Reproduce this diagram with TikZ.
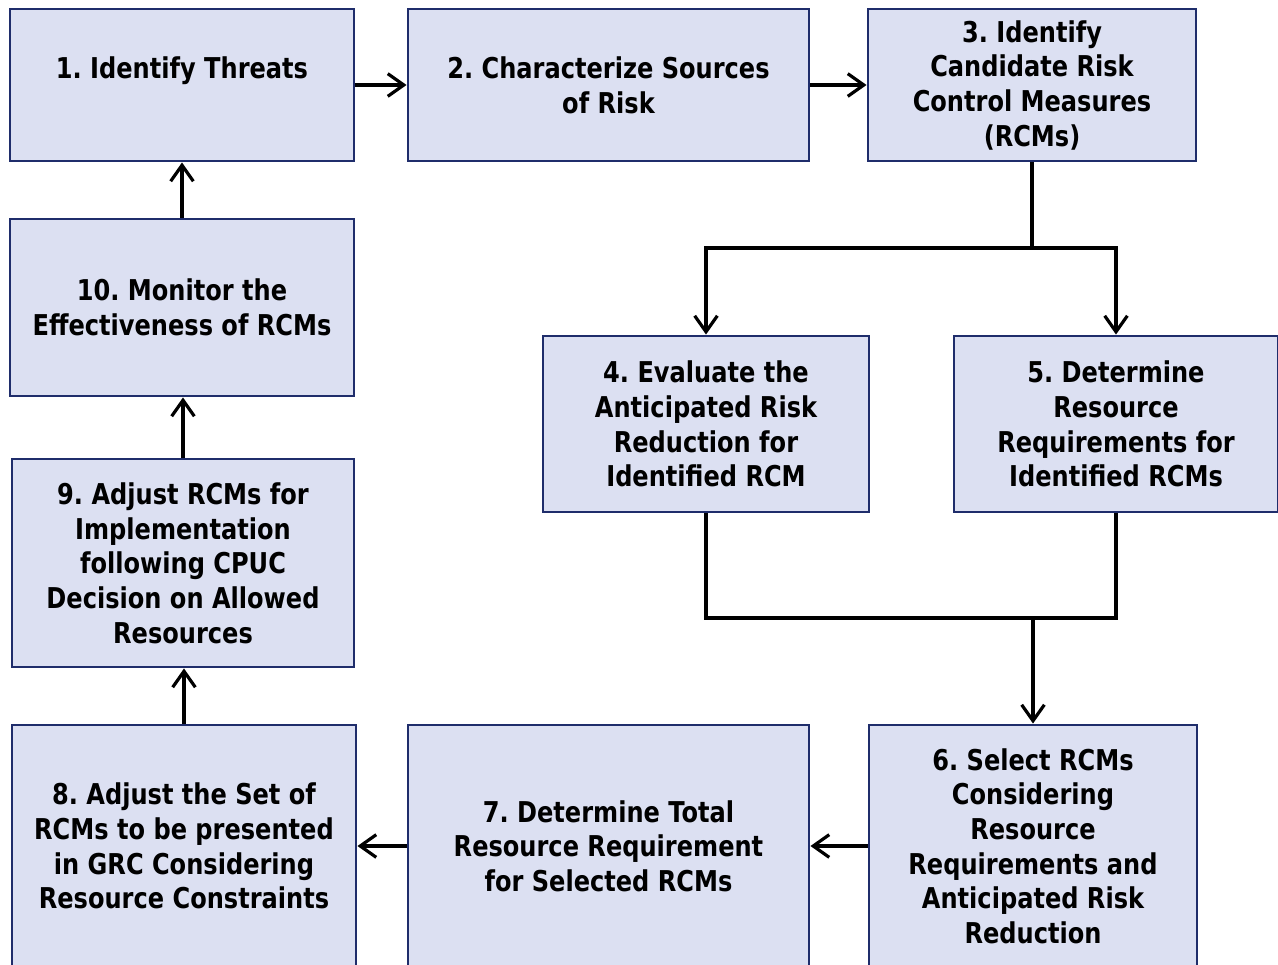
\documentclass[tikz,border=0pt]{standalone}
\usepackage{fontspec}
\newfontfamily\boxfont{DejaVu Sans}[FakeStretch=0.84]
\usetikzlibrary{arrows.meta, positioning}

\definecolor{boxfill}{RGB}{220,224,242}
\definecolor{boxline}{RGB}{31,45,107}

\frenchspacing
\begin{document}
\begin{tikzpicture}[x=0.75pt, y=-0.75pt,
		>={Straight Barb[length=12pt, width=17pt]}, line width=2.4pt,
		stepbox/.style={draw=boxline, fill=boxfill, line width=2.2pt, rectangle, align=center,
			font=\boxfont\bfseries\fontsize{21.5}{26}\selectfont}]
		\useasboundingbox (0,0) rectangle (1278,964);
		%% Nodes
		% Top row
		\begin{scope}
			\node (s1) at (182, 85) [stepbox, minimum width=258pt, minimum height=114pt] {1. Identify Threats\\\mbox{}};
			\node (s2) at (608.5, 85) [stepbox, minimum width=300.75pt, minimum height=114pt] {2. Characterize Sources\\of Risk};
			\node (s3) at (1032, 85) [stepbox, minimum width=246pt, minimum height=114pt] {3. Identify\\Candidate Risk\\Control Measures\\(RCMs)};
		\end{scope}

		% Middle
		\begin{scope}
			\node (s10) at (182, 307.5) [stepbox, minimum width=258pt, minimum height=132.75pt] {10. Monitor the\\Effectiveness of RCMs};
			\node (s4) at (706, 424) [stepbox, minimum width=244.5pt, minimum height=132pt] {4. Evaluate the\\Anticipated Risk\\Reduction for\\Identified RCM};
			\node (s5) at (1116, 424) [stepbox, minimum width=243pt, minimum height=132pt] {5. Determine\\Resource\\Requirements for\\Identified RCMs};
			\node (s9) at (183, 563) [stepbox, minimum width=256.5pt, minimum height=156pt] {9. Adjust RCMs for\\Implementation\\following CPUC\\Decision on Allowed\\Resources};
		\end{scope}

		% Bottom row
		\begin{scope}
			\node (s8) at (184, 846) [stepbox, minimum width=258pt, minimum height=181.5pt] {8. Adjust the Set of\\RCMs to be presented\\in GRC Considering\\Resource Constraints};
			\node (s7) at (608.5, 846) [stepbox, minimum width=300.75pt, minimum height=181.5pt] {7. Determine Total\\Resource Requirement\\for Selected RCMs};
			\node (s6) at (1033, 846) [stepbox, minimum width=246pt, minimum height=181.5pt] {6. Select RCMs\\Considering\\Resource\\Requirements and\\Anticipated Risk\\Reduction};
		\end{scope}

		\coordinate (split) at (1032, 248);
		\coordinate (merge) at (1033, 618);

		%% Edges
		\draw[->] (s1) -- (s2);
		\draw[->] (s2) -- (s3);
		\draw (s3) -- (split);
		\draw[->] (split) -| (s4.north);
		\draw[->] (split) -| (s5.north);
		\draw (s4.south) |- (merge);
		\draw (s5.south) |- (merge);
		\draw[->] (merge) -- (s6.north);
		\draw[->] (s6) -- (s7);
		\draw[->] (s7) -- (s8);
		\draw[->] (s8.north) -- (s8.north |- s9.south);
		\draw[->] (s9.north) -- (s9.north |- s10.south);
		\draw[->] (s10) -- (s1);
	\end{tikzpicture}
\end{document}
